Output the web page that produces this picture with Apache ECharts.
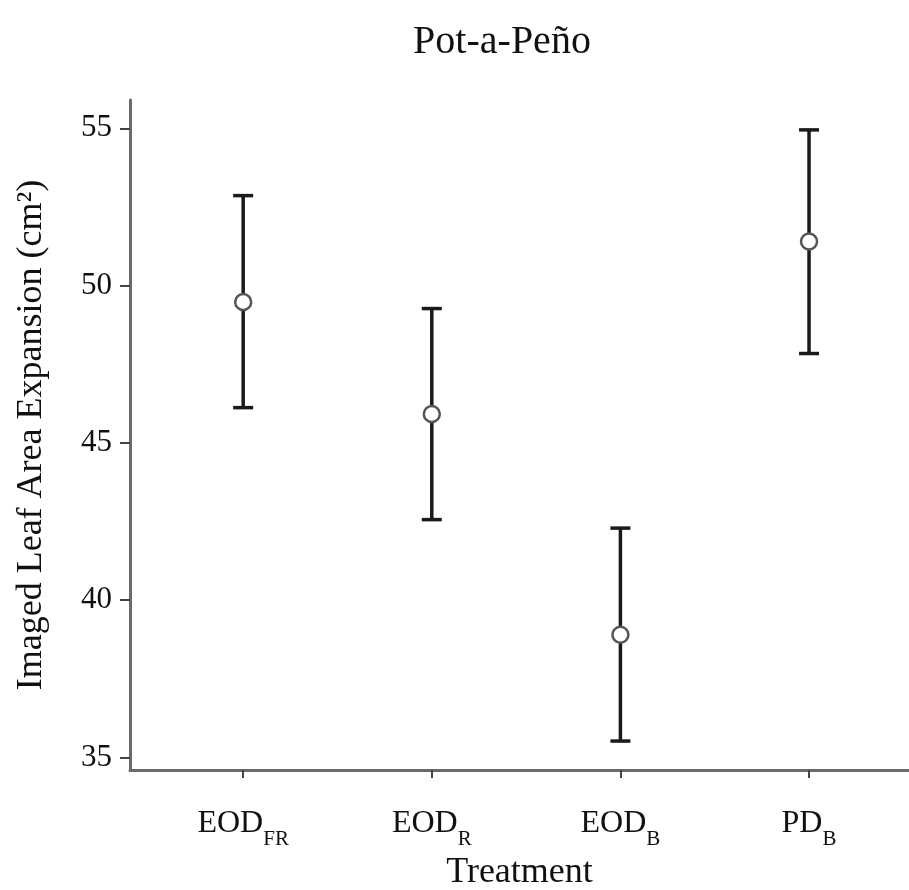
<!DOCTYPE html>
<html>
<head>
<meta charset="utf-8">
<script src="https://cdn.jsdelivr.net/npm/echarts@6/dist/echarts.min.js"></script>
<style>
html,body{margin:0;padding:0;background:#fff;}
#chart{width:909px;height:890px;}
</style>
</head>
<body>
<div id="chart"></div>
<script>
// Data
const categories = ['FR', 'R', 'B', 'B'];
const categoryPrefix = ['EOD', 'EOD', 'EOD', 'PD'];
const positions = [1, 2, 3, 4];
const means = [49.48, 45.92, 38.9, 51.4];
const upper = [52.86, 49.27, 42.29, 54.95];
const lower = [46.12, 42.56, 35.52, 47.84];
const yTicks = [35, 40, 45, 50, 55];

const chart = echarts.init(document.getElementById('chart'));
const font = '"Liberation Serif", "DejaVu Serif", serif';

const errData = positions.map((p, i) => [p, lower[i], upper[i]]);
const ptData = positions.map((p, i) => [p, means[i]]);

chart.setOption({
  animation: false,
  backgroundColor: '#fff',
  title: {
    text: 'Pot-a-Peño',
    left: 497,
    textAlign: 'center',
    top: 17,
    textStyle: {fontFamily: font, fontSize: 40, fontWeight: 'normal', color: '#111'}
  },
  grid: {left: 130, right: 0, top: 100, bottom: 120, containLabel: false, outerBoundsMode: 'none'},
  xAxis: {
    type: 'value',
    min: 0.4,
    max: 4.53,
    name: 'Treatment',
    nameLocation: 'middle',
    nameGap: 84,
    nameTextStyle: {fontFamily: font, fontSize: 36, color: '#111'},
    axisLine: {show: true, lineStyle: {color: '#6a6a6a', width: 3}},
    axisTick: {show: true, customValues: positions, length: 8, inside: false, lineStyle: {color: '#444', width: 2}},
    splitLine: {show: false},
    axisLabel: {
      customValues: positions,
      margin: 36,
      formatter: function (v) {
        const i = positions.indexOf(Math.round(v));
        if (i < 0) return '';
        return '{m|' + categoryPrefix[i] + '}{s|' + categories[i] + '}';
      },
      rich: {
        m: {fontFamily: font, fontSize: 32, color: '#111', lineHeight: 34, verticalAlign: 'bottom'},
        s: {fontFamily: font, fontSize: 21, color: '#111', lineHeight: 16, verticalAlign: 'bottom', padding: [0, 0, -10, 0]}
      }
    }
  },
  yAxis: {
    type: 'value',
    min: 34.6,
    max: 55.9,
    name: 'Imaged Leaf Area Expansion (cm²)',
    nameLocation: 'middle',
    nameGap: 80,
    nameTextStyle: {fontFamily: font, fontSize: 36, color: '#111', padding: [0, 0, 0, 0]},
    axisLine: {show: true, lineStyle: {color: '#6a6a6a', width: 3}},
    axisTick: {show: true, customValues: yTicks, length: 10, lineStyle: {color: '#444', width: 2}},
    splitLine: {show: false},
    axisLabel: {
      customValues: yTicks,
      margin: 18,
      fontFamily: font,
      fontSize: 31,
      color: '#111'
    }
  },
  series: [
    {
      type: 'custom',
      data: errData,
      z: 2,
      renderItem: function (params, api) {
        const x = api.value(0);
        const lo = api.coord([x, api.value(1)]);
        const hi = api.coord([x, api.value(2)]);
        const hw = 10;
        const style = {stroke: '#1a1a1a', lineWidth: 3.5};
        return {
          type: 'group',
          children: [
            {type: 'line', shape: {x1: lo[0], y1: lo[1], x2: hi[0], y2: hi[1]}, style: style},
            {type: 'line', shape: {x1: hi[0] - hw, y1: hi[1], x2: hi[0] + hw, y2: hi[1]}, style: style},
            {type: 'line', shape: {x1: lo[0] - hw, y1: lo[1], x2: lo[0] + hw, y2: lo[1]}, style: style}
          ]
        };
      }
    },
    {
      type: 'scatter',
      data: ptData,
      z: 5,
      symbol: 'circle',
      symbolSize: 16,
      itemStyle: {color: '#fff', borderColor: '#555', borderWidth: 2.5, opacity: 1}
    }
  ]
});
</script>
</body>
</html>
